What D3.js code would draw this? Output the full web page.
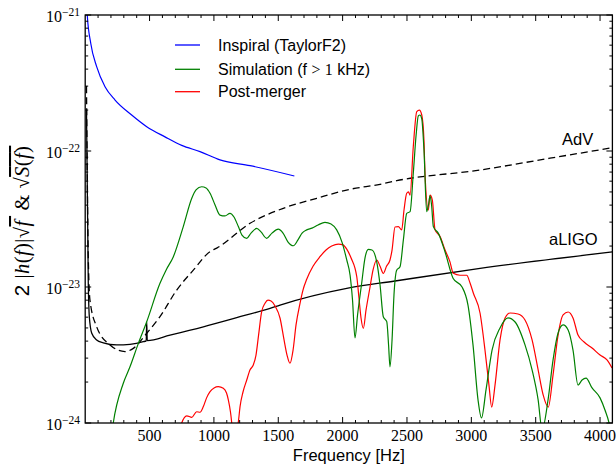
<!DOCTYPE html>
<html><head><meta charset="utf-8">
<script src="https://cdn.jsdelivr.net/npm/d3@7"></script>
<style>body{margin:0;background:#fff} svg{display:block}</style>
</head><body><svg id="c" width="616" height="473"></svg>
<script>
// ---- data ----
const inspiralFreq = [12, 16, 43, 89, 154, 232, 361, 478, 620, 750, 892, 1047, 1281, 1625];
const inspiralAmp  = [1.3e-21, 1.0e-21, 6.2e-22, 4.17e-22, 2.97e-22, 2.37e-22, 1.84e-22, 1.51e-22, 1.27e-22, 1.10e-22, 9.9e-23, 8.6e-23, 7.8e-23, 6.55e-23];

const advFreq = [10, 24, 37, 89, 193, 309, 374, 478, 581, 711, 840, 970, 1022, 1281, 1539, 1799, 2058, 2291, 2420, 3068, 3611, 4096];
const advAmp  = [3e-22, 1.67e-23, 8.0e-24, 5.1e-24, 3.75e-24, 3.35e-24, 3.54e-24, 4.57e-24, 6.05e-24, 9.5e-24, 1.33e-23, 1.82e-23, 1.93e-23, 2.94e-23, 3.79e-23, 4.49e-23, 5.23e-23, 5.69e-23, 6.05e-23, 7.25e-23, 8.85e-23, 1.057e-22];

const aligoFreq = [10, 24, 32, 51, 89, 141, 245, 348, 451, 474, 478, 482, 659, 918, 1177, 1436, 1514, 2032, 2407, 3068, 4096];
const aligoAmp  = [2e-22, 1.06e-23, 6.05e-24, 4.57e-24, 4.08e-24, 3.89e-24, 3.75e-24, 3.79e-24, 3.96e-24, 4.02e-24, 5.53e-24, 4.04e-24, 4.43e-24, 5.1e-24, 5.95e-24, 6.97e-24, 7.37e-24, 9.78e-24, 1.107e-23, 1.37e-23, 1.81e-23];

const simFreq = [200, 218, 296, 348, 413, 478, 581, 628, 685, 762, 828, 861, 905, 939, 970, 1009, 1047, 1086, 1125, 1156, 1190, 1218, 1255, 1288, 1333, 1366, 1410, 1451, 1500, 1537, 1576, 1617, 1653, 1685, 1721, 1762, 1809, 1863, 1910, 1954, 1995, 2032, 2058, 2077, 2096, 2116, 2148, 2174, 2200, 2228, 2265, 2291, 2316, 2343, 2357, 2368, 2384, 2399, 2420, 2446, 2472, 2498, 2524, 2549, 2571, 2588, 2601, 2615, 2632, 2653, 2667, 2679, 2691, 2705, 2744, 2796, 2858, 2928, 2974, 3013, 3052, 3079, 3114, 3161, 3223, 3285, 3340, 3417, 3472, 3519, 3550, 3596, 3635, 3674, 3713, 3752, 3790, 3829, 3860, 3891, 3938, 4000, 4039, 4070, 4093];
const simAmp  = [7.5e-25, 1.0e-24, 1.96e-24, 2.59e-24, 3.85e-24, 5.56e-24, 1.065e-23, 1.33e-23, 1.67e-23, 2.78e-23, 4.49e-23, 5.17e-23, 5.46e-23, 5.35e-23, 4.89e-23, 4.01e-23, 3.38e-23, 3.33e-23, 3.48e-23, 3.27e-23, 2.78e-23, 2.41e-23, 2.28e-23, 2.49e-23, 2.70e-23, 2.54e-23, 2.28e-23, 2.49e-23, 2.66e-23, 2.49e-23, 2.14e-23, 2.01e-23, 2.22e-23, 2.49e-23, 2.63e-23, 2.71e-23, 2.86e-23, 2.99e-23, 2.91e-23, 2.63e-23, 2.14e-23, 1.58e-23, 1.22e-23, 8.0e-24, 4.22e-24, 6.23e-24, 1.065e-23, 1.64e-23, 1.89e-23, 1.87e-23, 1.53e-23, 1.03e-23, 6.05e-24, 5.56e-24, 3.75e-24, 2.59e-24, 4.08e-24, 8.73e-24, 1.33e-23, 1.41e-23, 2.22e-23, 3.48e-23, 3.58e-23, 6.86e-23, 1.31e-22, 1.81e-22, 1.84e-22, 1.72e-22, 1.02e-22, 3.58e-23, 4.01e-23, 4.67e-23, 4.01e-23, 2.78e-23, 2.48e-23, 1.81e-23, 1.16e-23, 1.0e-23, 7.37e-24, 3.75e-24, 1.48e-24, 1.09e-24, 1.75e-24, 3.44e-24, 5.0e-24, 5.92e-24, 5.53e-24, 3.75e-24, 2.46e-24, 1.48e-24, 8.9e-25, 1.48e-24, 2.91e-24, 4.59e-24, 5.26e-24, 4.83e-24, 3.44e-24, 1.9e-24, 2.07e-24, 2.14e-24, 1.81e-24, 1.53e-24, 1.24e-24, 1.0e-24, 7.5e-25];

const postFreq = [744, 750, 789, 828, 866, 892, 918, 943, 970, 1001, 1034, 1073, 1098, 1112, 1129, 1145, 1160, 1176, 1190, 1203, 1226, 1255, 1281, 1306, 1327, 1347, 1371, 1397, 1420, 1444, 1475, 1514, 1545, 1568, 1591, 1615, 1638, 1669, 1692, 1721, 1770, 1824, 1871, 1915, 1967, 2003, 2032, 2065, 2110, 2127, 2143, 2161, 2182, 2213, 2236, 2265, 2291, 2316, 2341, 2368, 2384, 2407, 2433, 2459, 2477, 2498, 2512, 2524, 2549, 2576, 2596, 2615, 2632, 2640, 2666, 2679, 2697, 2718, 2757, 2796, 2834, 2860, 2912, 2964, 2990, 3016, 3068, 3106, 3137, 3158, 3184, 3223, 3262, 3301, 3363, 3417, 3472, 3519, 3558, 3598, 3635, 3674, 3713, 3752, 3790, 3829, 3876, 3938, 4000, 4054, 4093];
const postAmp  = [8.9e-25, 1.0e-24, 1.13e-24, 1.10e-24, 1.21e-24, 1.2e-24, 1.32e-24, 1.53e-24, 1.70e-24, 1.81e-24, 1.85e-24, 1.8e-24, 1.66e-24, 1.48e-24, 1.2e-24, 8.9e-25, 7.5e-25, 8.9e-25, 1.02e-24, 1.32e-24, 1.69e-24, 2.07e-24, 2.46e-24, 2.67e-24, 3.16e-24, 4.43e-24, 6.58e-24, 7.59e-24, 8.0e-24, 7.89e-24, 7.25e-24, 5.89e-24, 4.08e-24, 3.16e-24, 2.75e-24, 3.44e-24, 5.26e-24, 7.59e-24, 9.5e-24, 1.14e-23, 1.42e-23, 1.67e-23, 1.87e-23, 2.0e-23, 2.07e-23, 2.04e-23, 1.9e-23, 1.64e-23, 1.19e-23, 8.3e-24, 5.92e-24, 4.97e-24, 6.78e-24, 1.0e-23, 1.33e-23, 1.58e-23, 1.42e-23, 1.26e-23, 1.42e-23, 1.58e-23, 1.87e-23, 2.76e-23, 2.78e-23, 2.63e-23, 3.68e-23, 4.89e-23, 5.0e-23, 4.74e-23, 1.075e-22, 1.95e-22, 2.0e-22, 1.84e-22, 1.2e-22, 6.86e-23, 3.68e-23, 4.74e-23, 4.36e-23, 2.63e-23, 2.35e-23, 1.87e-23, 1.53e-23, 1.26e-23, 1.22e-23, 1.22e-23, 1.07e-23, 8.99e-24, 6.41e-24, 3.44e-24, 1.9e-24, 1.31e-24, 1.9e-24, 4.08e-24, 5.92e-24, 6.44e-24, 6.33e-24, 5.72e-24, 4.08e-24, 2.46e-24, 1.61e-24, 1.31e-24, 2.26e-24, 4.43e-24, 6.23e-24, 6.55e-24, 5.92e-24, 4.43e-24, 3.94e-24, 3.56e-24, 3.16e-24, 2.91e-24, 2.54e-24];

const xMajorTicks = [500, 1000, 1500, 2000, 2500, 3000, 3500, 4000];
const yMajorExps = [-24, -23, -22, -21];
const legendLabels = ["Inspiral (TaylorF2)", "Simulation (f > 1 kHz)", "Post-merger"];
const curveLabels = ["AdV", "aLIGO"];

// ---- layout ----
const L = 85.2, R = 612.4, T = 15, B = 423;
const svg = d3.select("#c");
const x = d3.scaleLinear().domain([0, 4096]).range([L, R]);
const y = d3.scaleLog().domain([1e-24, 1e-21]).range([B, T]);

svg.append("defs").append("clipPath").attr("id", "clip")
  .append("rect").attr("x", L).attr("y", T).attr("width", R - L).attr("height", B - T);

const plot = svg.append("g").attr("clip-path", "url(#clip)");
const line = d3.line().x(d => x(d[0])).y(d => y(d[1])).curve(d3.curveMonotoneX);
const zip = (a, b) => a.map((v, i) => [v, b[i]]);

plot.append("path").datum(zip(advFreq, advAmp)).attr("d", line)
  .attr("fill", "none").attr("stroke", "#000").attr("stroke-width", 1.3).attr("stroke-dasharray", "7,4");
plot.append("path").datum(zip(aligoFreq, aligoAmp)).attr("d", line)
  .attr("fill", "none").attr("stroke", "#000").attr("stroke-width", 1.3);
plot.append("path").datum(zip(inspiralFreq, inspiralAmp)).attr("d", line)
  .attr("fill", "none").attr("stroke", "#0000ff").attr("stroke-width", 1.2);
plot.append("path").datum(zip(postFreq, postAmp)).attr("d", line)
  .attr("fill", "none").attr("stroke", "#ff0000").attr("stroke-width", 1.2);
plot.append("path").datum(zip(simFreq, simAmp)).attr("d", line)
  .attr("fill", "none").attr("stroke", "#008000").attr("stroke-width", 1.2);

// ---- axes (inward ticks on all sides) ----
const minorX = d3.range(100, 4100, 100).filter(v => v % 500 !== 0);
const minorY = [];
for (const e of [-24, -23, -22]) for (let k = 2; k <= 9; k++) minorY.push(k * Math.pow(10, e));
const majorY = yMajorExps.map(e => Math.pow(10, e));

const axG = svg.append("g").attr("stroke", "#000");
function tickX(v, len) {
  axG.append("line").attr("x1", x(v)).attr("x2", x(v)).attr("y1", B).attr("y2", B - len).attr("stroke-width", 1);
  axG.append("line").attr("x1", x(v)).attr("x2", x(v)).attr("y1", T).attr("y2", T + len).attr("stroke-width", 1);
}
function tickY(v, len) {
  axG.append("line").attr("y1", y(v)).attr("y2", y(v)).attr("x1", L).attr("x2", L + len).attr("stroke-width", 1);
  axG.append("line").attr("y1", y(v)).attr("y2", y(v)).attr("x1", R).attr("x2", R - len).attr("stroke-width", 1);
}
xMajorTicks.forEach(v => tickX(v, 6));
minorX.forEach(v => tickX(v, 3));
majorY.forEach(v => tickY(v, 6));
minorY.forEach(v => tickY(v, 3));

svg.append("rect").attr("x", L).attr("y", T).attr("width", R - L).attr("height", B - T)
  .attr("fill", "none").attr("stroke", "#000").attr("stroke-width", 1.3);

// x tick labels
svg.append("g").selectAll("text").data(xMajorTicks).join("text")
  .attr("x", d => x(d)).attr("y", 441).attr("text-anchor", "middle")
  .attr("font-family", "Liberation Serif, serif").attr("font-size", 16).text(d => d);

// y tick labels 10^e
yMajorExps.forEach(e => {
  const t = svg.append("text").attr("x", 80).attr("y", y(Math.pow(10, e)) + 7)
    .attr("text-anchor", "end").attr("font-family", "Liberation Serif, serif").attr("font-size", 16);
  t.append("tspan").text("10");
  t.append("tspan").attr("dy", -6.5).attr("font-size", 11.5).text("\u2212" + Math.abs(e));
});

// axis labels
svg.append("text").attr("x", (L + R) / 2).attr("y", 461).attr("text-anchor", "middle")
  .attr("font-family", "Liberation Sans, Arial, sans-serif").attr("font-size", 16.5).text("Frequency [Hz]");

const yl = svg.append("text").attr("transform", "translate(29,221) rotate(-90)")
  .attr("text-anchor", "middle").attr("font-size", 20.5).attr("letter-spacing", 0.4)
  .attr("font-family", "Liberation Serif, serif");
yl.append("tspan").attr("font-family", "Liberation Sans, Arial, sans-serif").text("2 ");
yl.append("tspan").text("|");
yl.append("tspan").attr("font-style", "italic").text("h");
yl.append("tspan").text("(");
yl.append("tspan").attr("font-style", "italic").text("f");
yl.append("tspan").text(")|\u221A");
yl.append("tspan").attr("font-style", "italic").style("text-decoration", "overline").text("f\u2009");
yl.append("tspan").text(" & \u221A");
yl.append("tspan").style("text-decoration", "overline").html('<tspan font-style="italic">S</tspan>(<tspan font-style="italic">f</tspan>)');

// legend
const legColors = ["#0000ff", "#008000", "#ff0000"];
const legY = [45, 69.3, 91.7];
legendLabels.forEach((lab, i) => {
  svg.append("line").attr("x1", 175).attr("x2", 200).attr("y1", legY[i]).attr("y2", legY[i])
    .attr("stroke", legColors[i]).attr("stroke-width", 1.3);
  const t = svg.append("text").attr("x", 218).attr("y", legY[i] + 5.5)
    .attr("font-family", "Liberation Sans, Arial, sans-serif").attr("font-size", 16);
  if (i === 1) {
    t.append("tspan").text("Simulation (f ");
    t.append("tspan").attr("font-family", "Liberation Serif, serif").text(">");
    t.append("tspan").text(" ");
    t.append("tspan").attr("font-family", "Liberation Serif, serif").text("1");
    t.append("tspan").text(" kHz)");
  } else t.text(lab);
});

// curve labels
svg.append("text").attr("x", 562).attr("y", 145).attr("font-family", "Liberation Sans, Arial, sans-serif")
  .attr("font-size", 16.5).text(curveLabels[0]);
svg.append("text").attr("x", 549).attr("y", 245).attr("font-family", "Liberation Sans, Arial, sans-serif")
  .attr("font-size", 16.5).text(curveLabels[1]);
</script></body></html>
